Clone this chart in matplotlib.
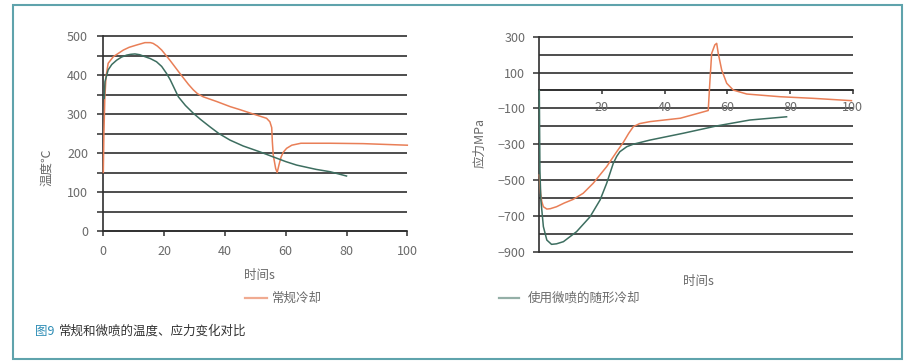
import matplotlib
matplotlib.use("Agg")
import matplotlib.pyplot as plt
from matplotlib.lines import Line2D
from matplotlib.patches import Rectangle

plt.rcParams['font.family'] = ['Noto Sans CJK SC', 'DejaVu Sans']
plt.rcParams['axes.unicode_minus'] = True

# ---------------- data ----------------
# Temperature chart (left)
temp_conv_t = [0, 0.2, 0.5, 0.9, 1.6, 3.3, 6.6, 8.5, 11, 13.7, 15.5, 16.4, 17.8, 19.2,
               21.9, 25.2, 28, 29.6, 31, 32.9, 37.3, 41.7, 45, 49.3, 53.7, 54.8, 55.4,
               55.6, 55.9, 56.7, 57.2, 57.8, 58.5, 59.2, 60.3, 62, 65, 74.6, 85.5, 100]
temp_conv_v = [150, 250, 340, 396, 430, 447, 464, 471, 477, 483, 483, 481, 474, 464,
               438, 404, 376, 362, 352, 344, 332, 319, 311, 300, 289, 280, 265,
               230, 195, 160, 150, 170, 190, 202, 212, 220, 225, 225, 224, 220]

temp_micro_t = [0.3, 0.55, 1.6, 2.8, 4.4, 6, 7.7, 9, 10.4, 12, 13.7, 15.5, 17.5, 19.2,
                20.8, 22, 23.1, 24.7, 27, 29.6, 32, 35.1, 38, 41.7, 46, 51.5, 55.9,
                60, 63.6, 70, 74.6, 80]
temp_micro_v = [340, 383, 413, 427, 438, 446, 451, 453, 454, 452, 447, 442, 434, 422,
                404, 388, 370, 344, 322, 302, 286, 267, 250, 233, 218, 203, 190,
                178, 169, 158, 152, 141]

# Stress chart (right)
stress_conv_t = [0, 0.4, 0.8, 1.3, 2.4, 3.5, 5.5, 8, 10.8, 14, 17.2, 21.5, 24.7, 26.8,
                 28.5, 30, 32, 35.3, 45, 53.9, 54.4, 55, 56, 56.6, 57.1, 58.2, 59.8,
                 61.9, 66.2, 76.8, 87.4, 99.6]
stress_conv_v = [-472, -574, -620, -649, -662, -660, -649, -628, -608, -574, -518, -425,
                 -342, -290, -240, -202, -185, -174, -155, -112, 40, 207, 254, 263,
                 207, 114, 40, 2, -20, -35, -44, -57]

stress_micro_t = [0, 0.2, 0.5, 1.3, 2.4, 3.9, 5.5, 7.7, 11.9, 16.2, 19.4, 21.5, 23.6,
                  24.7, 25.7, 27.9, 30, 35.3, 45.9, 56.6, 67.2, 78.9]
stress_micro_v = [0, -450, -611, -760, -835, -859, -856, -844, -788, -705, -611, -518,
                  -407, -368, -342, -314, -300, -277, -239, -198, -165, -147]

temp_major = [0, 100, 200, 300, 400, 500]
temp_minor = [50, 150, 250, 350, 450]
stress_major = [300, 100, -100, -300, -500, -700, -900]
stress_minor = [200, 0, -200, -400, -600, -800]
left_xticks = [0, 20, 40, 60, 80, 100]
right_xticks = [20, 40, 60, 80, 100]

series_names = ['常规冷却', '使用微喷的随形冷却']
caption_head = '图9'
caption_body = '常规和微喷的温度、应力变化对比'

# ---------------- styles ----------------
ORANGE = '#E97F57'
GREEN = '#3D6E60'
GRID = '#2f2f2f'
TXT = '#6a6a6a'
W, H = 911, 363

fig = plt.figure(figsize=(W / 100, H / 100), dpi=100)


def fx(px):
    return px / W


def fy(py):
    return 1 - py / H


# ---- left axes ----
axL = fig.add_axes([fx(103.3), fy(231), (407.3 - 103.3) / W, (231 - 36) / H])
axL.set_xlim(0, 100)
axL.set_ylim(0, 500)
axL.set_yticks(temp_major)
axL.set_yticks(temp_minor, minor=True)
axL.set_xticks(left_xticks)
axL.hlines(temp_major + temp_minor, 0, 100, colors=GRID, lw=1.2, clip_on=False, zorder=1)
for s in ['top', 'right']:
    axL.spines[s].set_visible(False)
for s in ['left', 'bottom']:
    axL.spines[s].set_color(GRID)
    axL.spines[s].set_linewidth(1.2)
axL.tick_params(axis='y', which='both', length=4.5, width=1.1, color=GRID,
                labelsize=9, labelcolor=TXT, pad=6.5)
axL.tick_params(axis='x', length=3.5, width=1.1, color=GRID, labelsize=9,
                labelcolor=TXT, pad=6.5)
axL.plot(temp_conv_t, temp_conv_v, color=ORANGE, lw=1.1, clip_on=False, zorder=3)
axL.plot(temp_micro_t, temp_micro_v, color=GREEN, lw=1.1, clip_on=False, zorder=3)

# ---- right axes ----
axR = fig.add_axes([fx(539.3), fy(251.7), (852.7 - 539.3) / W, (251.7 - 36.7) / H])
axR.set_xlim(0, 100)
axR.set_ylim(-900, 300)
axR.set_yticks(stress_major)
axR.set_yticks(stress_minor, minor=True)
axR.set_xticks(right_xticks)
axR.hlines(stress_major + stress_minor, 0, 100, colors=GRID, lw=1.2, clip_on=False, zorder=1)
for s in ['top', 'right']:
    axR.spines[s].set_visible(False)
axR.spines['bottom'].set_position(('data', 0))
for s in ['left', 'bottom']:
    axR.spines[s].set_color(GRID)
    axR.spines[s].set_linewidth(1.2)
axR.tick_params(axis='y', which='major', length=4, width=1.1, color=GRID,
                labelsize=9, labelcolor=TXT, pad=6)
axR.tick_params(axis='y', which='minor', length=0)
axR.tick_params(axis='x', length=3, width=1.1, color=GRID, labelsize=9,
                labelcolor=TXT, pad=4.5)
axR.plot(stress_conv_t, stress_conv_v, color=ORANGE, lw=1.1, clip_on=False, zorder=3)
axR.plot(stress_micro_t, stress_micro_v, color=GREEN, lw=1.1, clip_on=False, zorder=3)

# ---- axis labels ----
fig.text(fx(47), fy(167), '温度℃', rotation=90, ha='center', va='center',
         fontsize=9, color=TXT)
fig.text(fx(259), fy(275), '时间s', ha='center', va='center', fontsize=9, color=TXT)
fig.text(fx(480), fy(143), '应力MPa', rotation=90, ha='center', va='center',
         fontsize=9, color=TXT)
fig.text(fx(698), fy(282), '时间s', ha='center', va='center', fontsize=9, color=TXT)

# ---- legend ----
fig.add_artist(Line2D([fx(245), fx(267)], [fy(298), fy(298)], color=ORANGE,
                      alpha=0.65, lw=1.6, transform=fig.transFigure))
fig.text(fx(272), fy(298), series_names[0], ha='left', va='center', fontsize=9, color=TXT)
fig.add_artist(Line2D([fx(499), fx(519)], [fy(298), fy(298)], color=GREEN,
                      alpha=0.55, lw=1.6, transform=fig.transFigure))
fig.text(fx(528), fy(298), series_names[1], ha='left', va='center', fontsize=9, color=TXT)

# ---- caption ----
fig.text(fx(35), fy(331), caption_head, ha='left', va='center', fontsize=9, color='#2E8DB5')
fig.text(fx(59), fy(331), caption_body, ha='left', va='center', fontsize=9, color='#333333')

# ---- border ----
fig.add_artist(Rectangle((fx(12.7), fy(359.3)), fx(901.7 - 12.7), (359.3 - 5) / H,
                         transform=fig.transFigure, fill=False, edgecolor='#5FA3AC',
                         lw=1.5))

fig.savefig('out.png', dpi=100)
